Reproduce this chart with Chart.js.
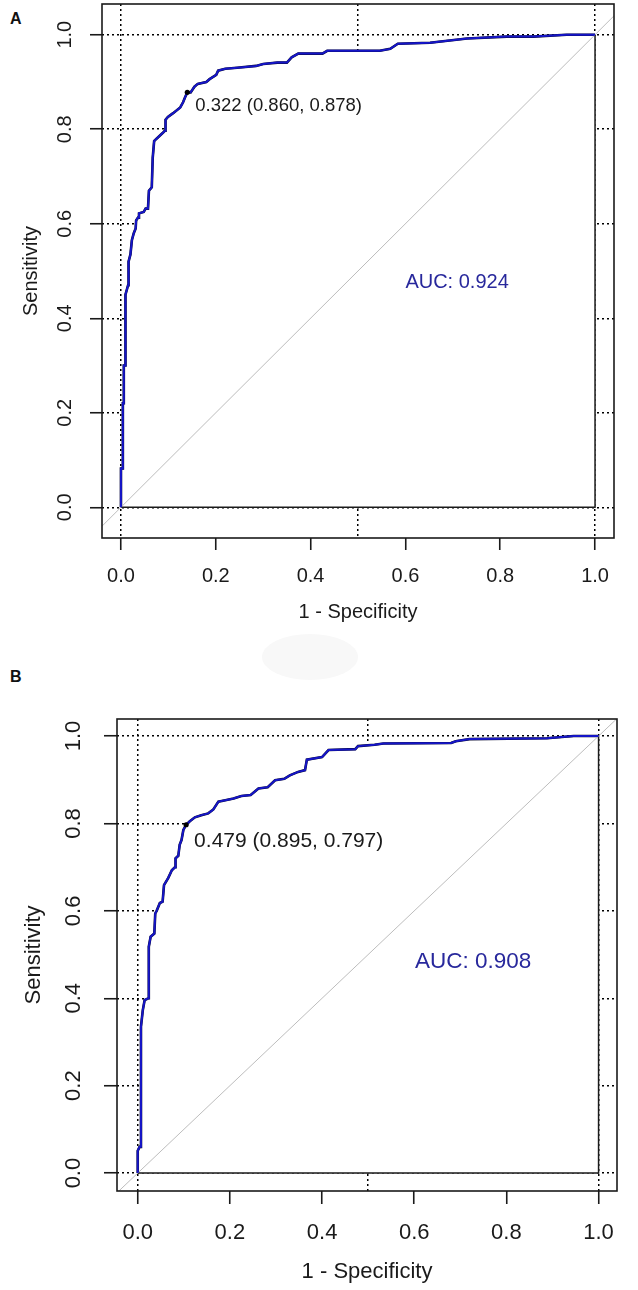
<!DOCTYPE html>
<html>
<head>
<meta charset="utf-8">
<script src="https://cdn.jsdelivr.net/npm/chart.js@4/dist/chart.umd.min.js"></script>
<style>
  body { margin: 0; background: #fff; width: 638px; height: 1290px; position: relative; overflow: hidden; font-family: "Liberation Sans", Arial, sans-serif; }
  canvas { position: absolute; left: 0; }
  .tag { position: absolute; font-weight: bold; font-size: 16px; color: #111; }
  .smudge { position: absolute; left: 262px; top: 634px; width: 96px; height: 46px; border-radius: 50%; background: #f8f8f8; }
</style>
</head>
<body>
<div class="smudge"></div>
<div class="tag" style="left:10px;top:10px">A</div>
<div class="tag" style="left:10px;top:668px">B</div>
<canvas id="rocA" width="638" height="640" style="top:0"></canvas>
<canvas id="rocB" width="638" height="650" style="top:640px"></canvas>
<script>
"use strict";

// panel A, 1 - specificity / sensitivity along the ROC curve
const fprA = [0, 0, 0.004, 0.004, 0.006, 0.006, 0.009, 0.009, 0.010, 0.015, 0.016, 0.020, 0.023, 0.027, 0.031, 0.032, 0.036, 0.038, 0.048, 0.052, 0.057, 0.059, 0.065, 0.067, 0.070, 0.075, 0.089, 0.093, 0.094, 0.099, 0.110, 0.125, 0.131, 0.135, 0.140, 0.147, 0.155, 0.162, 0.180, 0.187, 0.201, 0.205, 0.220, 0.245, 0.285, 0.300, 0.330, 0.350, 0.360, 0.374, 0.425, 0.435, 0.546, 0.568, 0.584, 0.652, 0.730, 0.814, 0.870, 0.940, 1.0];
const tprA = [0, 0.082, 0.082, 0.220, 0.220, 0.300, 0.300, 0.380, 0.450, 0.470, 0.520, 0.535, 0.565, 0.580, 0.590, 0.607, 0.613, 0.622, 0.625, 0.632, 0.632, 0.670, 0.677, 0.740, 0.775, 0.780, 0.793, 0.797, 0.820, 0.826, 0.834, 0.846, 0.857, 0.867, 0.878, 0.878, 0.890, 0.896, 0.900, 0.906, 0.915, 0.924, 0.928, 0.930, 0.934, 0.938, 0.941, 0.941, 0.952, 0.960, 0.960, 0.966, 0.966, 0.970, 0.981, 0.983, 0.992, 0.996, 0.996, 1.0, 1.0];

// panel B
const fprB = [0, 0, 0.004, 0.007, 0.007, 0.011, 0.015, 0.023, 0.024, 0.028, 0.036, 0.038, 0.041, 0.048, 0.054, 0.057, 0.066, 0.074, 0.081, 0.082, 0.088, 0.091, 0.095, 0.099, 0.105, 0.113, 0.124, 0.138, 0.153, 0.164, 0.175, 0.190, 0.208, 0.225, 0.245, 0.262, 0.282, 0.298, 0.318, 0.330, 0.348, 0.363, 0.367, 0.400, 0.414, 0.472, 0.478, 0.514, 0.533, 0.680, 0.690, 0.720, 0.888, 0.946, 1.0];
const tprB = [0, 0.051, 0.060, 0.060, 0.335, 0.373, 0.396, 0.400, 0.518, 0.541, 0.548, 0.594, 0.600, 0.618, 0.621, 0.659, 0.675, 0.693, 0.700, 0.720, 0.726, 0.751, 0.762, 0.785, 0.797, 0.805, 0.814, 0.819, 0.823, 0.832, 0.850, 0.853, 0.857, 0.863, 0.865, 0.880, 0.883, 0.899, 0.902, 0.910, 0.918, 0.922, 0.946, 0.952, 0.968, 0.970, 0.977, 0.980, 0.983, 0.984, 0.988, 0.993, 0.995, 1.0, 1.0];

// best threshold (cutoff, specificity, sensitivity) and AUC
const bestA = [0.322, 0.860, 0.878];
const bestB = [0.479, 0.895, 0.797];
const aucA = 0.924;
const aucB = 0.908;

const xTicks = [0, 0.2, 0.4, 0.6, 0.8, 1.0];
const yTicks = [0, 0.2, 0.4, 0.6, 0.8, 1.0];
const xGrid = [0, 0.5, 1.0];

const FONT = '"Liberation Sans", Arial, sans-serif';
const INK = '#1a1a1a';
const CLEAR = 'rgba(0,0,0,0)';

const notes = {
  id: 'notes',
  afterDatasetsDraw(chart, args, o) {
    const {ctx, scales: {x, y}} = chart;
    ctx.save();
    ctx.textBaseline = 'middle';
    ctx.textAlign = 'left';
    ctx.fillStyle = INK;
    ctx.font = o.thrSize + 'px ' + FONT;
    const b = o.best;
    const label = b[0].toFixed(3) + ' (' + b[1].toFixed(3) + ', ' + b[2].toFixed(3) + ')';
    ctx.fillText(label, x.getPixelForValue(1 - b[1]) + o.dx, y.getPixelForValue(b[2]) + o.dy);
    ctx.textAlign = 'center';
    ctx.fillStyle = '#28289c';
    ctx.font = o.aucSize + 'px ' + FONT;
    ctx.fillText('AUC: ' + o.auc.toFixed(3), x.getPixelForValue(o.aucAt[0]), y.getPixelForValue(o.aucAt[1]));
    ctx.restore();
  },
  afterDraw(chart) {
    const {ctx, chartArea: a} = chart;
    ctx.save();
    ctx.strokeStyle = '#1a1a1a';
    ctx.lineWidth = 1.6;
    ctx.strokeRect(a.left, a.top, a.right - a.left, a.bottom - a.top);
    ctx.restore();
  }
};

function drawRoc(id, fpr, tpr, best, auc, L) {
  const curve = fpr.map((v, i) => ({x: v, y: tpr[i]}));
  const last = curve.length - 1;
  // outline of the area under the curve: curve, right edge, bottom edge
  const outline = curve.concat([{x: fpr[last], y: tpr[0]}, {x: fpr[0], y: tpr[0]}]);
  const diag = [{x: L.x[0], y: L.x[0]}, {x: L.x[1], y: L.x[1]}];
  const tickFont = {family: FONT, size: L.tick};
  const onEdge = c => c.p0DataIndex >= last;

  new Chart(document.getElementById(id), {
    type: 'scatter',
    data: {
      datasets: [
        { data: [{x: 1 - best[1], y: best[2]}], pointRadius: 2.6, pointBackgroundColor: '#000', pointBorderWidth: 0, order: -1 },
        { data: curve, showLine: true, borderColor: '#1515c8', borderWidth: 2, pointRadius: 0, order: 0 },
        { data: diag, showLine: true, borderColor: '#bdbdbd', borderWidth: 1, pointRadius: 0, order: 2 },
        { data: outline, showLine: true, borderColor: '#0a0a30', borderWidth: 2.6, pointRadius: 0, order: 3,
          segment: {
            borderWidth: c => onEdge(c) ? 1.5 : 2.6,
            borderColor: c => onEdge(c) ? '#1a1a1a' : '#0a0a30'
          } },
        { data: curve, showLine: true, borderColor: CLEAR, borderWidth: 1, pointRadius: 0,
          fill: 'origin', backgroundColor: '#fff', order: 4 }
      ]
    },
    options: {
      responsive: false,
      animation: false,
      events: [],
      layout: { padding: { top: L.top, right: L.right, left: 0, bottom: 0 } },
      scales: {
        x: {
          type: 'linear', min: L.x[0], max: L.x[1],
          afterBuildTicks: s => {
            s.ticks = [...new Set(xTicks.concat(xGrid))].sort((a, b) => a - b).map(v => ({value: v}));
          },
          afterFit: s => { s.height = L.xH; s.paddingLeft = 0; s.paddingRight = 0; },
          ticks: {
            autoSkip: false, maxRotation: 0, padding: L.xPad, color: INK, font: tickFont,
            callback: v => xTicks.includes(v) ? v.toFixed(1) : ''
          },
          grid: {
            lineWidth: 1.5, tickLength: L.tl, tickWidth: 1.6,
            color: c => c.tick && xGrid.includes(c.tick.value) ? '#000' : CLEAR,
            tickColor: c => c.tick && xTicks.includes(c.tick.value) ? '#1a1a1a' : CLEAR
          },
          border: { display: false, dash: [2, 3] },
          title: { display: true, text: '1 - Specificity', color: INK, font: tickFont, padding: {top: 0, bottom: L.xTitle} }
        },
        y: {
          type: 'linear', min: L.y[0], max: L.y[1],
          afterBuildTicks: s => { s.ticks = yTicks.map(v => ({value: v})); },
          afterFit: s => { s.width = L.yW; s.paddingTop = 0; s.paddingBottom = 0; },
          ticks: {
            autoSkip: false, minRotation: 90, maxRotation: 90, crossAlign: 'center',
            padding: L.yPad, color: INK, font: tickFont,
            callback: v => v.toFixed(1)
          },
          grid: { lineWidth: 1.5, color: '#000', tickLength: L.tl, tickWidth: 1.6, tickColor: '#1a1a1a' },
          border: { display: false, dash: [2, 3] },
          title: { display: true, text: 'Sensitivity', color: INK, font: tickFont, padding: {top: L.yTitle, bottom: 0} }
        }
      },
      plugins: {
        legend: { display: false },
        tooltip: { enabled: false },
        notes: { best: best, auc: auc, thrSize: L.thr, dx: L.dx, dy: L.dy, aucSize: L.aucSize, aucAt: L.aucAt }
      }
    },
    plugins: [notes]
  });
}

drawRoc('rocA', fprA, tprA, bestA, aucA, {
  x: [-0.04, 1.04], y: [-0.065, 1.065], top: 3, right: 24, xH: 102, yW: 102,
  tick: 20, tl: 12, xPad: 14, yPad: 11, xTitle: 16, yTitle: 19,
  thr: 18.5, dx: 8, dy: 14, aucSize: 20, aucAt: [0.709, 0.476]
});

drawRoc('rocB', fprB, tprB, bestB, aucB, {
  x: [-0.045, 1.04], y: [-0.041, 1.039], top: 79, right: 21, xH: 99, yW: 117,
  tick: 22, tl: 13, xPad: 16, yPad: 15, xTitle: 5, yTitle: 21,
  thr: 21, dx: 8, dy: 16, aucSize: 22.5, aucAt: [0.728, 0.483]
});
</script>
</body>
</html>
